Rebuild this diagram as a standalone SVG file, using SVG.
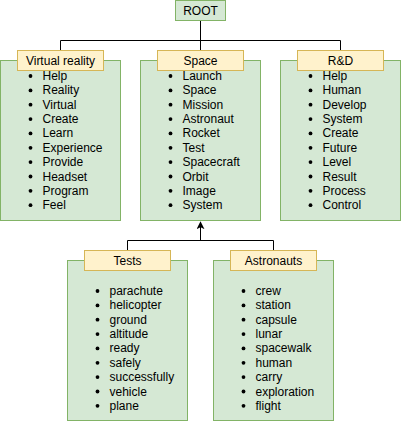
<svg xmlns="http://www.w3.org/2000/svg" width="401" height="425" viewBox="0 0 401 425">
<style>
text{font-family:"Liberation Sans",Arial,sans-serif;font-size:12px;fill:#000}
.box{fill:#d5e8d4;stroke:#82b366;stroke-width:1}
.hdr{fill:#fff2cc;stroke:#d6b656;stroke-width:1}
.c{text-anchor:middle}
.edge{fill:none;stroke:#000;stroke-width:1}
.b{fill:#000}
</style>
<defs>
<marker id="arr" viewBox="0 0 10 10" refX="9" refY="5" markerWidth="8" markerHeight="8" markerUnits="userSpaceOnUse" orient="auto">
<path d="M0,0 L10,5 L0,10 L2.5,5 Z" fill="#000"/>
</marker>
</defs>
<rect width="401" height="425" fill="#fff"/>
<g id="connectors">
<path class="edge" d="M200.5,20.5 V40.5 M60.5,50.5 V40.5 H340.5 V50.5 M200.5,40.5 V50.5"/>
<path class="edge" d="M127.5,250.5 V240.5 H273.5 V250.5"/>
<path class="edge" d="M200.5,240.5 V222" marker-end="url(#arr)"/>
</g>
<g id="root">
<rect class="box" x="175.5" y="0.5" width="50" height="20"/>
<text class="c" x="200.5" y="15">ROOT</text>
</g>
<g id="virtual-reality">
<rect class="box" x="0.5" y="60.5" width="120" height="160"/>
<rect class="hdr" x="17.5" y="50.5" width="86" height="20"/>
<text class="c" x="60.5" y="65">Virtual reality</text>
<g class="b"><circle cx="30.5" cy="76" r="1.9"/><circle cx="30.5" cy="90.4" r="1.9"/><circle cx="30.5" cy="104.7" r="1.9"/><circle cx="30.5" cy="119.1" r="1.9"/><circle cx="30.5" cy="133.4" r="1.9"/><circle cx="30.5" cy="147.8" r="1.9"/><circle cx="30.5" cy="162.1" r="1.9"/><circle cx="30.5" cy="176.5" r="1.9"/><circle cx="30.5" cy="190.8" r="1.9"/><circle cx="30.5" cy="205.2" r="1.9"/></g>
<text x="42.5" y="80">Help</text><text x="42.5" y="94.4">Reality</text><text x="42.5" y="108.7">Virtual</text><text x="42.5" y="123.1">Create</text><text x="42.5" y="137.4">Learn</text><text x="42.5" y="151.8">Experience</text><text x="42.5" y="166.1">Provide</text><text x="42.5" y="180.5">Headset</text><text x="42.5" y="194.8">Program</text><text x="42.5" y="209.2">Feel</text>
</g>
<g id="space">
<rect class="box" x="140.5" y="60.5" width="120" height="160"/>
<rect class="hdr" x="157.5" y="50.5" width="86" height="20"/>
<text class="c" x="200.5" y="65">Space</text>
<g class="b"><circle cx="170.5" cy="76" r="1.9"/><circle cx="170.5" cy="90.4" r="1.9"/><circle cx="170.5" cy="104.7" r="1.9"/><circle cx="170.5" cy="119.1" r="1.9"/><circle cx="170.5" cy="133.4" r="1.9"/><circle cx="170.5" cy="147.8" r="1.9"/><circle cx="170.5" cy="162.1" r="1.9"/><circle cx="170.5" cy="176.5" r="1.9"/><circle cx="170.5" cy="190.8" r="1.9"/><circle cx="170.5" cy="205.2" r="1.9"/></g>
<text x="182.5" y="80">Launch</text><text x="182.5" y="94.4">Space</text><text x="182.5" y="108.7">Mission</text><text x="182.5" y="123.1">Astronaut</text><text x="182.5" y="137.4">Rocket</text><text x="182.5" y="151.8">Test</text><text x="182.5" y="166.1">Spacecraft</text><text x="182.5" y="180.5">Orbit</text><text x="182.5" y="194.8">Image</text><text x="182.5" y="209.2">System</text>
</g>
<g id="rd">
<rect class="box" x="280.5" y="60.5" width="120" height="160"/>
<rect class="hdr" x="297.5" y="50.5" width="86" height="20"/>
<text class="c" x="340.5" y="65">R&amp;D</text>
<g class="b"><circle cx="310.5" cy="76" r="1.9"/><circle cx="310.5" cy="90.4" r="1.9"/><circle cx="310.5" cy="104.7" r="1.9"/><circle cx="310.5" cy="119.1" r="1.9"/><circle cx="310.5" cy="133.4" r="1.9"/><circle cx="310.5" cy="147.8" r="1.9"/><circle cx="310.5" cy="162.1" r="1.9"/><circle cx="310.5" cy="176.5" r="1.9"/><circle cx="310.5" cy="190.8" r="1.9"/><circle cx="310.5" cy="205.2" r="1.9"/></g>
<text x="322.5" y="80">Help</text><text x="322.5" y="94.4">Human</text><text x="322.5" y="108.7">Develop</text><text x="322.5" y="123.1">System</text><text x="322.5" y="137.4">Create</text><text x="322.5" y="151.8">Future</text><text x="322.5" y="166.1">Level</text><text x="322.5" y="180.5">Result</text><text x="322.5" y="194.8">Process</text><text x="322.5" y="209.2">Control</text>
</g>
<g id="tests">
<rect class="box" x="67.5" y="260.5" width="120" height="160"/>
<rect class="hdr" x="84.5" y="250.5" width="86" height="20"/>
<text class="c" x="127.5" y="265">Tests</text>
<g class="b"><circle cx="97.5" cy="291" r="1.9"/><circle cx="97.5" cy="305.4" r="1.9"/><circle cx="97.5" cy="319.7" r="1.9"/><circle cx="97.5" cy="334.1" r="1.9"/><circle cx="97.5" cy="348.4" r="1.9"/><circle cx="97.5" cy="362.8" r="1.9"/><circle cx="97.5" cy="377.1" r="1.9"/><circle cx="97.5" cy="391.5" r="1.9"/><circle cx="97.5" cy="405.8" r="1.9"/></g>
<text x="109.5" y="295">parachute</text><text x="109.5" y="309.4">helicopter</text><text x="109.5" y="323.7">ground</text><text x="109.5" y="338.1">altitude</text><text x="109.5" y="352.4">ready</text><text x="109.5" y="366.8">safely</text><text x="109.5" y="381.1">successfully</text><text x="109.5" y="395.5">vehicle</text><text x="109.5" y="409.8">plane</text>
</g>
<g id="astronauts">
<rect class="box" x="213.5" y="260.5" width="120" height="160"/>
<rect class="hdr" x="230.5" y="250.5" width="86" height="20"/>
<text class="c" x="273.5" y="265">Astronauts</text>
<g class="b"><circle cx="243.5" cy="291" r="1.9"/><circle cx="243.5" cy="305.4" r="1.9"/><circle cx="243.5" cy="319.7" r="1.9"/><circle cx="243.5" cy="334.1" r="1.9"/><circle cx="243.5" cy="348.4" r="1.9"/><circle cx="243.5" cy="362.8" r="1.9"/><circle cx="243.5" cy="377.1" r="1.9"/><circle cx="243.5" cy="391.5" r="1.9"/><circle cx="243.5" cy="405.8" r="1.9"/></g>
<text x="255.5" y="295">crew</text><text x="255.5" y="309.4">station</text><text x="255.5" y="323.7">capsule</text><text x="255.5" y="338.1">lunar</text><text x="255.5" y="352.4">spacewalk</text><text x="255.5" y="366.8">human</text><text x="255.5" y="381.1">carry</text><text x="255.5" y="395.5">exploration</text><text x="255.5" y="409.8">flight</text>
</g>
</svg>
